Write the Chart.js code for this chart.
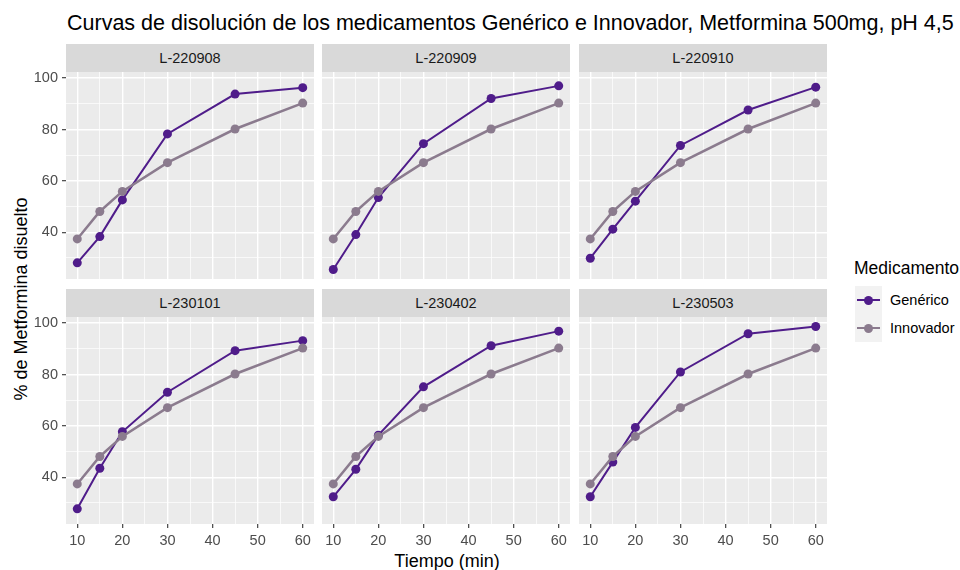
<!DOCTYPE html>
<html lang="es">
<head>
<meta charset="UTF-8">
<title>Curvas de disolución - Metformina 500mg</title>
<script src="https://cdn.jsdelivr.net/npm/chart.js"></script>
<style>
  body { margin: 0; padding: 0; background: #fff; font-family: "Liberation Sans", Arial, sans-serif; }
  #wrap { position: relative; width: 960px; height: 570px; overflow: hidden; }
  .abs { position: absolute; }
  .title { left: 67px; top: 10px; font-size: 21.5px; color: #000; white-space: nowrap; line-height: 26px; }
  .strip { background: #d9d9d9; color: #1a1a1a; font-size: 14.5px; text-align: center; height: 28px; line-height: 28px; }
  .axtitle { font-size: 18px; color: #000; white-space: nowrap; line-height: 20px; }
  .legtitle { left: 854px; top: 257px; font-size: 17.5px; color: #000; line-height: 22px; }
  .key { left: 855px; width: 27px; height: 28px; background: #f2f2f2; }
  .key .ln { position: absolute; left: 2px; right: 2px; top: 13px; height: 2px; }
  .key .pt { position: absolute; left: 9px; top: 10px; width: 9px; height: 9px; border-radius: 50%; }
  .leglab { left: 890px; font-size: 14.5px; color: #000; line-height: 28px; }
</style>
</head>
<body>
<div id="wrap">
  <div class="abs title">Curvas de disolución de los medicamentos Genérico e Innovador, Metformina 500mg, pH 4,5</div>
  <div class="abs axtitle" style="left:447px; top:551px; transform: translateX(-50%);">Tiempo (min)</div>
  <div class="abs axtitle" style="left:21px; top:299px; transform: translate(-50%,-50%) rotate(-90deg);">% de Metformina disuelto</div>

  <div class="abs legtitle">Medicamento</div>
  <div class="abs key" style="top:286px;"><div class="ln" style="background:#4f1c8a"></div><div class="pt" style="background:#4f1c8a"></div></div>
  <div class="abs key" style="top:314px;"><div class="ln" style="background:#8b7b8e"></div><div class="pt" style="background:#8b7b8e"></div></div>
  <div class="abs leglab" style="top:286px;">Genérico</div>
  <div class="abs leglab" style="top:314px;">Innovador</div>
</div>

<script>
// datos
const tiempos = [10, 15, 20, 30, 45, 60];
const lotes = ['L-220908', 'L-220909', 'L-220910', 'L-230101', 'L-230402', 'L-230503'];
const innovador = [37.4, 48.1, 55.9, 67.1, 80.2, 90.3];
const gen_220908 = [28.1, 38.3, 52.6, 78.3, 93.8, 96.3];
const gen_220909 = [25.5, 39.1, 53.5, 74.5, 92.1, 97.0];
const gen_220910 = [29.9, 41.2, 52.1, 73.8, 87.6, 96.5];
const gen_230101 = [27.7, 43.5, 57.7, 73.1, 89.3, 93.2];
const gen_230402 = [32.4, 43.1, 56.4, 75.2, 91.2, 96.9];
const gen_230503 = [32.4, 45.9, 59.4, 81.0, 95.9, 98.7];
const genericos = [gen_220908, gen_220909, gen_220910, gen_230101, gen_230402, gen_230503];

// ejes: lineas mayores y menores como en ggplot
const xTicks = [10, 15, 20, 25, 30, 35, 40, 45, 50, 55, 60];
const xMajor = [10, 20, 30, 40, 50, 60];
const yTicks = [30, 40, 50, 60, 70, 80, 90, 100];
const yMajor = [40, 60, 80, 100];

const colGen = '#4f1c8a';
const colInn = '#8b7b8e';

// geometria de la grilla de paneles
const panelLeft = [66, 322, 579];
const panelTop = [72, 317];
const panelW = 248, panelH = 207, stripH = 28;
const yAxisW = 46, xAxisH = 26;

const panelBg = {
  id: 'panelBg',
  beforeDraw(chart) {
    const a = chart.chartArea, c = chart.ctx;
    c.save();
    c.fillStyle = '#ebebeb';
    c.fillRect(a.left, a.top, a.right - a.left, a.bottom - a.top);
    c.restore();
  }
};

// sin margenes extra para las etiquetas: el panel ocupa todo el lienzo
const noPad = s => { s.paddingTop = 0; s.paddingBottom = 0; s.paddingLeft = 0; s.paddingRight = 0; };

const toXY = arr => arr.map((v, i) => ({ x: tiempos[i], y: v }));
const wrap = document.getElementById('wrap');

lotes.forEach((lote, idx) => {
  const col = idx % 3, row = Math.floor(idx / 3);
  const showY = col === 0, showX = row === 1;

  const strip = document.createElement('div');
  strip.className = 'abs strip';
  strip.style.left = panelLeft[col] + 'px';
  strip.style.top = (panelTop[row] - stripH) + 'px';
  strip.style.width = panelW + 'px';
  strip.textContent = lote;
  wrap.appendChild(strip);

  const cw = panelW + (showY ? yAxisW : 0);
  const ch = panelH + (showX ? xAxisH : 0);
  const cv = document.createElement('canvas');
  cv.className = 'abs';
  cv.width = cw; cv.height = ch;
  cv.style.width = cw + 'px'; cv.style.height = ch + 'px';
  cv.style.left = (panelLeft[col] - (showY ? yAxisW : 0)) + 'px';
  cv.style.top = panelTop[row] + 'px';
  wrap.appendChild(cv);

  new Chart(cv.getContext('2d'), {
    type: 'line',
    data: {
      datasets: [
        {
          label: 'Genérico', data: toXY(genericos[idx]), order: 2,
          borderColor: colGen, backgroundColor: colGen, borderWidth: 2,
          pointRadius: 4.5, pointBorderWidth: 0, tension: 0
        },
        {
          label: 'Innovador', data: toXY(innovador), order: 1,
          borderColor: colInn, backgroundColor: colInn, borderWidth: 2.5,
          pointRadius: 4.5, pointBorderWidth: 0, tension: 0
        }
      ]
    },
    options: {
      responsive: false,
      animation: false,
      layout: { padding: 0, autoPadding: false },
      plugins: { legend: { display: false }, tooltip: { enabled: false } },
      scales: {
        x: {
          type: 'linear', min: 7.5, max: 62.5,
          afterBuildTicks: s => { s.ticks = xTicks.map(v => ({ value: v })); },
          afterFit: s => { s.height = showX ? xAxisH : 0; noPad(s); },
          border: { display: false },
          grid: {
            color: '#ffffff',
            lineWidth: c => xMajor.includes(c.tick.value) ? 1.4 : 0.7,
            drawTicks: showX, tickLength: 4,
            tickColor: c => xMajor.includes(c.tick.value) ? '#333333' : 'rgba(0,0,0,0)',
            tickWidth: 1.1
          },
          ticks: {
            display: showX, autoSkip: false, maxRotation: 0, padding: 4,
            color: '#4d4d4d', font: { size: 14.5, family: '"Liberation Sans", Arial, sans-serif' },
            callback: v => xMajor.includes(v) ? String(v) : ''
          }
        },
        y: {
          type: 'linear', min: 21.8, max: 102.4,
          afterBuildTicks: s => { s.ticks = yTicks.map(v => ({ value: v })); },
          afterFit: s => { s.width = showY ? yAxisW : 0; noPad(s); },
          border: { display: false },
          grid: {
            color: '#ffffff',
            lineWidth: c => yMajor.includes(c.tick.value) ? 1.4 : 0.7,
            drawTicks: showY, tickLength: 4,
            tickColor: c => yMajor.includes(c.tick.value) ? '#333333' : 'rgba(0,0,0,0)',
            tickWidth: 1.1
          },
          ticks: {
            display: showY, autoSkip: false, padding: 4,
            color: '#4d4d4d', font: { size: 14.5, family: '"Liberation Sans", Arial, sans-serif' },
            callback: v => yMajor.includes(v) ? String(v) : ''
          }
        }
      }
    },
    plugins: [panelBg]
  });
});
</script>
</body>
</html>
